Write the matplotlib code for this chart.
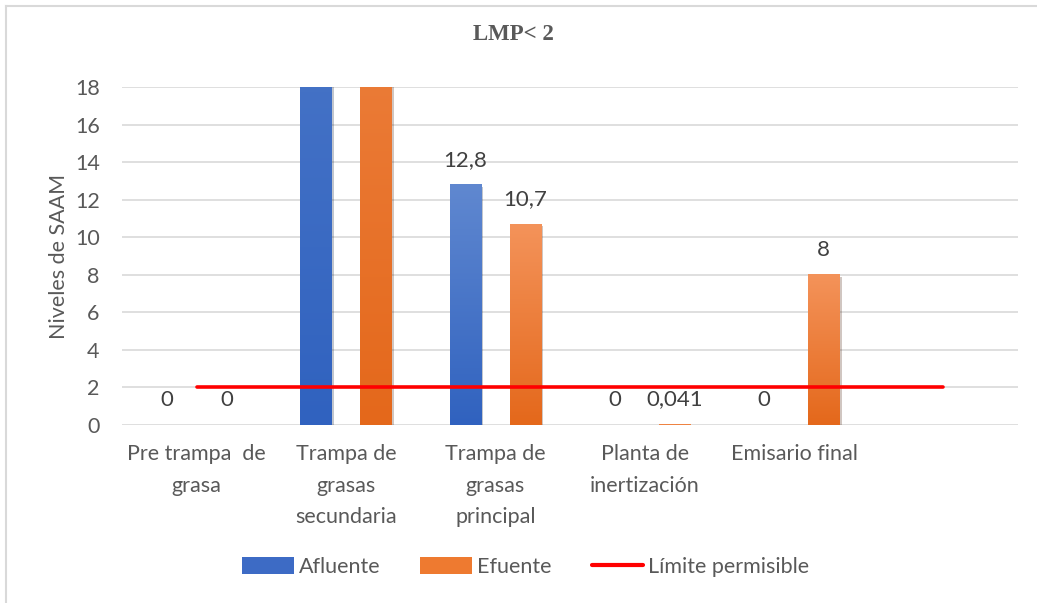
import numpy as np
import matplotlib.pyplot as plt
import matplotlib.patheffects as pe
from matplotlib.colors import LinearSegmentedColormap
from matplotlib.patches import Patch
from matplotlib.lines import Line2D

plt.rcParams['font.family'] = ['Lato', 'DejaVu Sans']

# ---------------------------------- datos ----------------------------------
categorias = ['Pre trampa  de\ngrasa', 'Trampa de\ngrasas\nsecundaria',
              'Trampa de\ngrasas\nprincipal', 'Planta de\ninertización',
              'Emisario final', '']
afluente = [0, 45.0, 12.8, 0, 0, np.nan]
efuente = [0, 42.0, 10.7, 0.041, 8, np.nan]
limite = [2, 2, 2, 2, 2, 2]
y_ticks = [0, 2, 4, 6, 8, 10, 12, 14, 16, 18]

gris = '#595959'
azul = ('#3062bf', '#6088d0')
naranja = ('#e4681b', '#f4935a')
fs = 15.5

fig = plt.figure(figsize=(10.37, 6.03), dpi=100)
ax = fig.add_axes([0.1176, 0.2952, 0.8641, 0.5605])

x = np.arange(len(categorias))
ancho = 0.21
desp = 0.2
ymax = y_ticks[-1]


def barras_degradado(pos, valores, colores):
    cmap = LinearSegmentedColormap.from_list('g', [colores[0], colores[1]])
    for xi, v in zip(pos, valores):
        if np.isnan(v):
            continue
        rect = ax.bar(xi, v, ancho, color=colores[0], zorder=2,
                      path_effects=[pe.SimplePatchShadow(offset=(1.5, -1.5), alpha=0.25),
                                    pe.Normal()])[0]
        if v > 0:
            # degradado sobre toda la barra, recortado al area visible
            tope = min(v, ymax)
            grad = np.linspace(0, tope / v, 256).reshape(-1, 1)
            ax.imshow(grad, cmap=cmap, vmin=0, vmax=1, origin='lower', aspect='auto',
                      extent=(xi - ancho / 2, xi + ancho / 2, 0, tope), zorder=3)


barras_degradado(x - desp, afluente, azul)
barras_degradado(x + desp, efuente, naranja)

# etiquetas de valor
for pos, valores in ((x - desp, afluente), (x + desp, efuente)):
    for xi, v in zip(pos, valores):
        if np.isnan(v) or v > ymax:
            continue
        ax.annotate(f'{v:g}'.replace('.', ','), (xi, v), xytext=(0, 18),
                    textcoords='offset points', ha='center', va='center',
                    fontsize=16, color='#404040', zorder=5)

ax.plot(x, limite, color='#ff0000', lw=2.6, solid_capstyle='round', zorder=4)

ax.set_xlim(-0.5, len(categorias) - 0.5)
ax.set_ylim(0, ymax)
ax.set_yticks(y_ticks)
ax.set_xticks(x)
ax.set_xticklabels(categorias, fontsize=fs, color=gris, linespacing=1.7)
ax.tick_params(axis='y', labelsize=fs, labelcolor=gris, length=0, pad=16)
ax.tick_params(axis='x', length=0, pad=14)
ax.grid(axis='y', color='#d9d9d9', lw=1.2, zorder=0)
ax.set_axisbelow(True)
for s in ax.spines.values():
    s.set_visible(False)
ax.set_ylabel('Niveles de SAAM', fontsize=fs, color=gris, labelpad=4)

fig.text(0.495, 0.942, 'LMP< 2', fontsize=16.5, fontweight='bold', color=gris,
         family='Liberation Serif', ha='center', va='center')

handles = [Patch(facecolor='#3d6bc5', edgecolor='none'),
           Patch(facecolor='#ee7a30', edgecolor='none'),
           Line2D([0], [0], color='#ff0000', lw=3, solid_capstyle='round')]
fig.legend(handles, ['Afluente', 'Efuente', 'Límite permisible'], loc='center',
           bbox_to_anchor=(0.507, 0.06), ncol=3, frameon=False, fontsize=fs,
           labelcolor=gris, handlelength=2.4, handleheight=0.8,
           handletextpad=0.23, columnspacing=1.86)

# borde del gráfico
fig.add_artist(Line2D([0.006, 1.0], [0.99, 0.99], color='#d9d9d9', lw=1.5))
fig.add_artist(Line2D([0.006, 0.006], [0.0, 0.99], color='#d9d9d9', lw=1.5))

fig.savefig('out.png', dpi=100)
